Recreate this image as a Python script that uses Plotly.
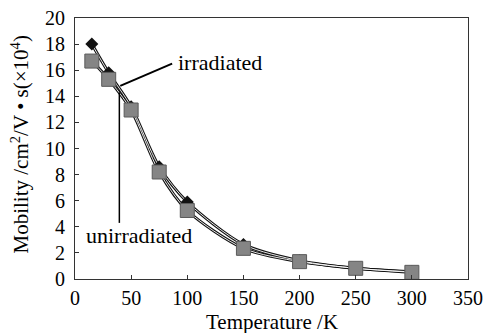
import plotly.graph_objects as go

temperature = [15, 30, 50, 75, 100, 150, 200, 250, 300]
irradiated = [18.0, 15.8, 13.2, 8.6, 5.9, 2.65, 1.4, 0.82, 0.55]
unirradiated = [16.7, 15.3, 12.95, 8.2, 5.25, 2.35, 1.33, 0.82, 0.51]

x_ticks = [0, 50, 100, 150, 200, 250, 300, 350]
y_ticks = [0, 2, 4, 6, 8, 10, 12, 14, 16, 18, 20]

FONT = "Liberation Serif"

fig = go.Figure()

series = [unirradiated, irradiated]
for ys in series:
    fig.add_trace(go.Scatter(x=temperature, y=ys, mode="lines",
                             line=dict(color="#111111", width=3.0, shape="spline", smoothing=0.8),
                             hoverinfo="skip", showlegend=False))
for ys in series:
    fig.add_trace(go.Scatter(x=temperature, y=ys, mode="lines",
                             line=dict(color="white", width=0.9, shape="spline", smoothing=0.8),
                             hoverinfo="skip", showlegend=False))

fig.add_trace(go.Scatter(x=temperature, y=irradiated, mode="markers",
                         marker=dict(symbol="diamond", size=10, color="#111111"),
                         name="irradiated", showlegend=False))
fig.add_trace(go.Scatter(x=temperature, y=unirradiated, mode="markers",
                         marker=dict(symbol="square", size=14, color="#858585",
                                     line=dict(color="#5a5a5a", width=1)),
                         name="unirradiated", showlegend=False))

fig.add_annotation(x=90.0, y=16.6, text="irradiated", showarrow=False,
                   xanchor="left", yanchor="middle", font=dict(family=FONT, size=22, color="black"))
fig.add_annotation(x=8.0, y=3.35, text="unirradiated", showarrow=False,
                   xanchor="left", yanchor="middle", font=dict(family=FONT, size=22, color="black"))

fig.add_shape(type="line", x0=86.5, y0=16.5, x1=40.3, y1=14.8,
              line=dict(color="black", width=2))
fig.add_shape(type="line", x0=39.5, y0=14.3, x1=39.5, y1=4.3,
              line=dict(color="black", width=1.5))

# axis titles as annotations for exact placement
fig.add_annotation(xref="paper", yref="paper", x=0.5, y=0, xanchor="center", yanchor="top",
                   yshift=-29, text="Temperature /K", showarrow=False,
                   font=dict(family=FONT, size=21, color="black"))
fig.add_annotation(xref="paper", yref="paper", x=0, y=0.5, xanchor="center", yanchor="middle",
                   xshift=-55, yshift=4, textangle=-90,
                   text="Mobility /cm<sup>2</sup>/V • s(×10<sup>4</sup>)", showarrow=False,
                   font=dict(family=FONT, size=21, color="black"))

fig.update_xaxes(range=[0, 350], tickvals=x_ticks, ticks="inside", ticklen=4,
                 tickcolor="#333", showline=True, linecolor="#333", linewidth=1,
                 mirror=True, showgrid=False, zeroline=False, automargin=False,
                 ticklabelstandoff=1,
                 tickfont=dict(family=FONT, size=20, color="black"))
fig.update_yaxes(range=[0, 20], tickvals=y_ticks, ticks="inside", ticklen=4,
                 tickcolor="#333", showline=True, linecolor="#333", linewidth=1,
                 mirror=True, showgrid=False, zeroline=False, automargin=False,
                 ticklabelstandoff=5,
                 tickfont=dict(family=FONT, size=20, color="black"))

fig.update_layout(width=491, height=333, margin=dict(l=75, r=23, t=18, b=54),
                  plot_bgcolor="white", paper_bgcolor="white")

fig.write_html("out.html")
